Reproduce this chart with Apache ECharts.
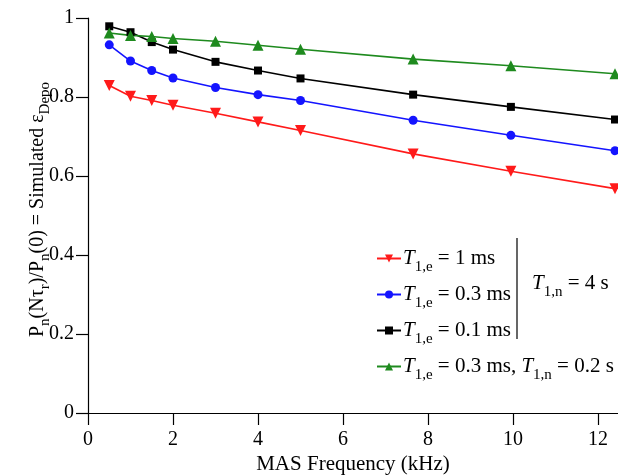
<!DOCTYPE html>
<html>
<head>
<meta charset="utf-8">
<script src="https://cdn.jsdelivr.net/npm/echarts@6/dist/echarts.min.js"></script>
<style>html,body{margin:0;padding:0;background:#fff}#c{width:618px;height:475px}</style>
</head>
<body>
<div id="c"></div>
<script>
var freq = [0.5, 1, 1.5, 2, 3, 4, 5, 7.65, 9.95, 12.4];
var t1e_1ms = [0.829, 0.802, 0.791, 0.779, 0.759, 0.737, 0.715, 0.656, 0.612, 0.568];
var t1e_03ms = [0.932, 0.891, 0.867, 0.848, 0.824, 0.806, 0.791, 0.741, 0.703, 0.664];
var t1e_01ms = [0.979, 0.964, 0.939, 0.920, 0.889, 0.867, 0.847, 0.806, 0.775, 0.743];
var t1e_03ms_t1n_02s = [0.962, 0.956, 0.953, 0.948, 0.941, 0.931, 0.921, 0.896, 0.879, 0.859];
var xTicks = [0, 2, 4, 6, 8, 10, 12];

var FONT = '"Liberation Serif", "DejaVu Serif", serif';
function pairs(ys) { return freq.map(function (x, i) { return [x, ys[i]]; }); }

var seriesDefs = [
  { name: 'a', data: t1e_1ms, color: '#ff1a1a', symbol: 'path://M0,0 L10,0 L5,9 Z', size: 11,
    label: '{i|T}{s|1,e}{m| = 1 ms}' },
  { name: 'b', data: t1e_03ms, color: '#1414ff', symbol: 'circle', size: 9,
    label: '{i|T}{s|1,e}{m| = 0.3 ms}' },
  { name: 'c', data: t1e_01ms, color: '#000000', symbol: 'rect', size: 8,
    label: '{i|T}{s|1,e}{m| = 0.1 ms}' },
  { name: 'd', data: t1e_03ms_t1n_02s, color: '#1e8a1e', symbol: 'triangle', size: 11,
    label: '{i|T}{s|1,e}{m| = 0.3 ms, }{i|T}{s|1,n}{m| = 0.2 s}' }
];
var labelMap = {};
seriesDefs.forEach(function (s) { labelMap[s.name] = s.label; });

var richText = {
  i: { fontFamily: FONT, fontSize: 21, fontStyle: 'italic', color: '#000' },
  m: { fontFamily: FONT, fontSize: 21, color: '#000' },
  s: { fontFamily: FONT, fontSize: 15, color: '#000', padding: [18, 0, 0, 0] }
};

var chart = echarts.init(document.getElementById('c'), null, { renderer: 'canvas' });
chart.setOption({
  animation: false,
  backgroundColor: '#fff',
  grid: { left: 88, top: 18, right: 0, bottom: 62, containLabel: false, outerBoundsMode: 'none' },
  xAxis: {
    type: 'value', min: 0, max: 12.47,
    name: 'MAS Frequency (kHz)', nameLocation: 'middle', nameGap: 41, nameMoveOverlap: false,
    nameTextStyle: { fontFamily: FONT, fontSize: 21, color: '#000' },
    axisLine: { onZero: false, lineStyle: { color: '#000', width: 1.2 } },
    axisTick: { show: true, length: 12, inside: false, customValues: xTicks, lineStyle: { color: '#000', width: 1.2 } },
    axisLabel: { customValues: xTicks, margin: 17, fontFamily: FONT, fontSize: 20, color: '#000' },
    splitLine: { show: false }
  },
  yAxis: {
    type: 'value', min: 0, max: 1, interval: 0.2,
    name: '{m|P}{s|n}{m|(Nτ}{s|r}{m|)/P}{s|n}{m|(0) = Simulated ε}{s|Depo}',
    nameLocation: 'middle', nameGap: 35, nameMoveOverlap: false,
    nameTextStyle: { padding: [0, 0, 0, 12], rich: {
      m: { fontFamily: FONT, fontSize: 20, color: '#000' },
      s: { fontFamily: FONT, fontSize: 15, color: '#000', padding: [16, 0, 0, 0] }
    } },
    axisLine: { lineStyle: { color: '#000', width: 1.2 } },
    axisTick: { show: true, length: 12, lineStyle: { color: '#000', width: 1.2 } },
    axisLabel: { margin: 14, fontFamily: FONT, fontSize: 20, color: '#000' },
    splitLine: { show: false }
  },
  legend: {
    orient: 'vertical', left: 371, top: 243, itemGap: 9,
    itemWidth: 24, itemHeight: 10,
    data: seriesDefs.map(function (s) { return s.name; }),
    formatter: function (n) { return labelMap[n]; },
    textStyle: { rich: richText, padding: [0, 0, 0, -3] }
  },
  graphic: [
    { type: 'line', shape: { x1: 517, y1: 238, x2: 517, y2: 339 }, style: { stroke: '#000', lineWidth: 1.2 } },
    { type: 'text', left: 532, top: 273,
      style: { text: '{i|T}{s|1,n}{m| = 4 s}', rich: richText } }
  ],
  series: seriesDefs.map(function (s) {
    return {
      name: s.name, type: 'line', data: pairs(s.data),
      symbol: s.symbol, symbolSize: s.size, showAllSymbol: true,
      lineStyle: { color: s.color, width: 1.6 },
      itemStyle: { color: s.color },
      clip: false
    };
  })
});
</script>
</body>
</html>
